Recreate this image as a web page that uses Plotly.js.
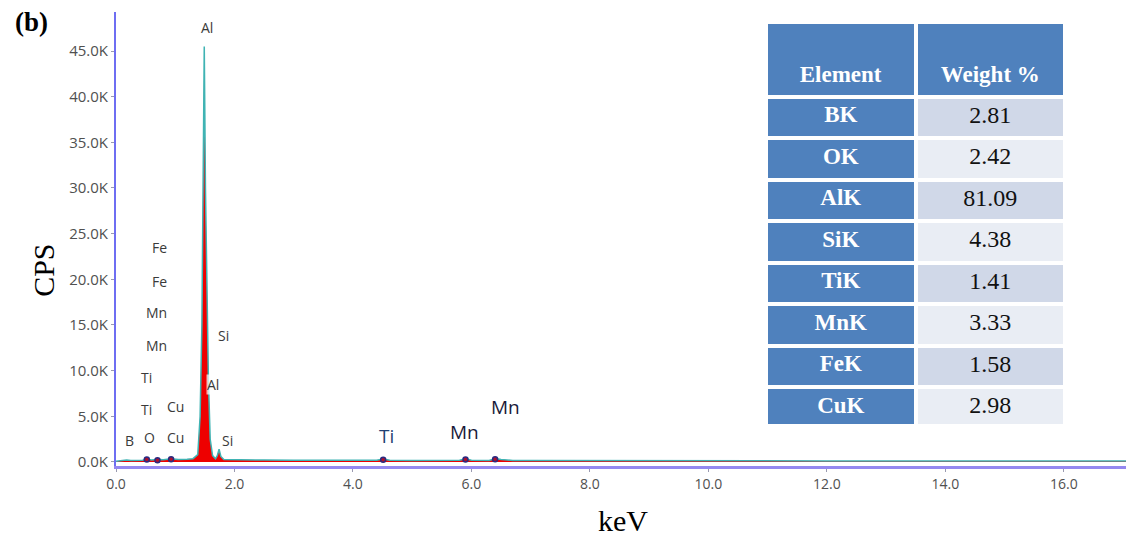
<!DOCTYPE html>
<html>
<head>
<meta charset="utf-8">
<script src="https://cdn.plot.ly/plotly-3.0.1.min.js"></script>
<style>html,body{margin:0;padding:0;background:#fff;}#chart{width:1126px;height:537px;}</style>
</head>
<body>
<div id="chart"></div>
<script>
// Spectrum (keV vs counts per second)
var energy = [0.00,0.10,0.18,0.25,0.35,0.45,0.52,0.60,0.70,0.80,0.93,1.05,1.20,1.30,1.38,1.42,1.45,1.47,1.49,1.51,1.53,1.56,1.59,1.63,1.68,1.71,1.74,1.77,1.82,2.00,2.50,3.00,3.50,4.00,4.40,4.51,4.62,5.00,5.50,5.80,5.90,6.00,6.30,6.40,6.50,6.70,7.00,7.50,8.00,8.10,9.00,10.0,12.0,14.0,16.0,17.1];
var counts = [80,120,220,160,170,190,330,220,280,250,360,280,300,360,800,5000,15000,28000,45500,30000,20000,9000,2500,700,350,700,1400,600,260,230,210,200,190,180,180,330,180,170,160,180,360,180,170,380,280,170,160,150,170,150,140,130,120,110,100,100];

// Small peak markers
var peakEnergy = [0.52, 0.70, 0.93, 4.51, 5.90, 6.40];
var peakCounts = [260, 200, 300, 250, 280, 300];

// Element labels on the spectrum
var labelText = ["Al","Fe","Fe","Mn","Mn","Ti","Ti","Cu","Cu","O","B","Si","Si","Al"];
var labelX    = [1.53,0.74,0.74,0.69,0.69,0.51,0.51,1.00,1.00,0.57,0.22,1.81,1.89,1.64];
var labelY    = [47600,23500,19800,16400,12800,9300,5800,6100,2700,2700,2300,13800,2300,8500];

var bigLabelText = ["Ti","Mn","Mn"];
var bigLabelX    = [4.56,5.89,6.58];
var bigLabelY    = [2850,3300,6000];

// Axis ticks
var yTickVals = [0,5000,10000,15000,20000,25000,30000,35000,40000,45000];
var yTickText = ["0.0K","5.0K","10.0K","15.0K","20.0K","25.0K","30.0K","35.0K","40.0K","45.0K"];
var xTickVals = [0,2,4,6,8,10,12,14,16];
var xTickText = ["0.0","2.0","4.0","6.0","8.0","10.0","12.0","14.0","16.0"];

// Composition table
var headers  = ["Element","Weight %"];
var elements = ["BK","OK","AlK","SiK","TiK","MnK","FeK","CuK"];
var weights  = ["2.81","2.42","81.09","4.38","1.41","3.33","1.58","2.98"];

var serif = 'Liberation Serif, Times New Roman, serif';
var sans = 'Open Sans, DejaVu Sans, sans-serif';

var spectrum = {
  x: energy, y: counts, type: 'scatter', mode: 'lines',
  fill: 'tozeroy', fillcolor: '#ee0000',
  line: {color: '#3fb3b3', width: 1.5},
  hoverinfo: 'skip', showlegend: false, xaxis: 'x', yaxis: 'y'
};
var peaks = {
  x: peakEnergy, y: peakCounts, type: 'scatter', mode: 'markers',
  marker: {color: '#b0102a', size: 5, line: {color: '#2a2a80', width: 1.5}},
  showlegend: false, hoverinfo: 'skip'
};

var leftFill = elements.map(function(){return '#4f81bd';});
var rightFill = elements.map(function(e,i){return i % 2 === 0 ? '#d0d8e8' : '#e9edf4';});

var table = {
  type: 'table',
  domain: {x: [0.6436, 0.9406], y: [0.0925, 0.978]},
  columnwidth: [1, 1],
  header: {
    values: headers.map(function(h){return '&nbsp;<br><span style="font-size:23px">' + h + '</span>';}),
    align: 'center', height: 75,
    fill: {color: '#4f81bd'},
    line: {color: '#ffffff', width: 4},
    font: {family: serif, size: 24, color: '#ffffff', weight: 'bold'}
  },
  cells: {
    values: [elements, weights],
    align: 'center', height: 41.5,
    fill: {color: [leftFill, rightFill]},
    line: {color: '#ffffff', width: 4},
    font: {family: serif, size: [23, 24], color: ['#ffffff', '#111111'], weight: ['bold', 'normal']}
  }
};

var annotations = [];
for (var i = 0; i < labelText.length; i++) {
  annotations.push({
    x: labelX[i], y: labelY[i], xref: 'x', yref: 'y', text: labelText[i], showarrow: false,
    font: {family: sans, size: 14, color: '#3a3a3a'},
    bgcolor: i === labelText.length - 1 ? 'rgba(255,255,255,0.7)' : 'rgba(0,0,0,0)', borderpad: 0
  });
}
for (var j = 0; j < bigLabelText.length; j++) {
  annotations.push({
    x: bigLabelX[j], y: bigLabelY[j], xref: 'x', yref: 'y', text: bigLabelText[j], showarrow: false,
    font: {family: sans, size: 19, color: j === 0 ? '#1f3f73' : '#1a1a3a'}
  });
}
annotations.push({
  x: -0.084, y: 0.979, xref: 'paper', yref: 'paper', xanchor: 'center', yanchor: 'middle',
  text: '<b>(b)</b>', showarrow: false,
  font: {family: serif, size: 27, color: '#000'}
});
annotations.push({
  x: -0.0713, y: 0.432, xref: 'paper', yref: 'paper', xanchor: 'center', yanchor: 'middle',
  text: 'CPS', textangle: -90, showarrow: false,
  font: {family: serif, size: 30, color: '#000'}
});
annotations.push({
  x: 0.502, y: -0.121, xref: 'paper', yref: 'paper', xanchor: 'center', yanchor: 'middle',
  text: 'keV', showarrow: false,
  font: {family: serif, size: 30, color: '#000'}
});

var layout = {
  width: 1126, height: 537,
  margin: {l: 116, r: 0, t: 12, b: 71},
  paper_bgcolor: '#ffffff', plot_bgcolor: '#ffffff',
  showlegend: false,
  xaxis: {
    range: [0, 17.05], tickvals: xTickVals, ticktext: xTickText,
    showgrid: false, zeroline: false,
    showline: true, linecolor: '#9488f0', linewidth: 3,
    ticks: 'outside', ticklen: 3, tickcolor: '#9a9ab0', tickwidth: 1,
    tickfont: {family: sans, size: 14, color: '#505050'},
    fixedrange: true
  },
  yaxis: {
    range: [-440, 49270], tickvals: yTickVals, ticktext: yTickText,
    showgrid: false, zeroline: false,
    showline: true, linecolor: '#6e6ef2', linewidth: 2,
    ticks: 'outside', ticklen: 3, tickcolor: '#9a9ab0', tickwidth: 1,
    tickfont: {family: sans, size: 15, color: '#505050'},
    fixedrange: true
  },
  annotations: annotations
};

Plotly.newPlot('chart', [spectrum, peaks, table], layout, {displayModeBar: false, staticPlot: true});
</script>
</body>
</html>
